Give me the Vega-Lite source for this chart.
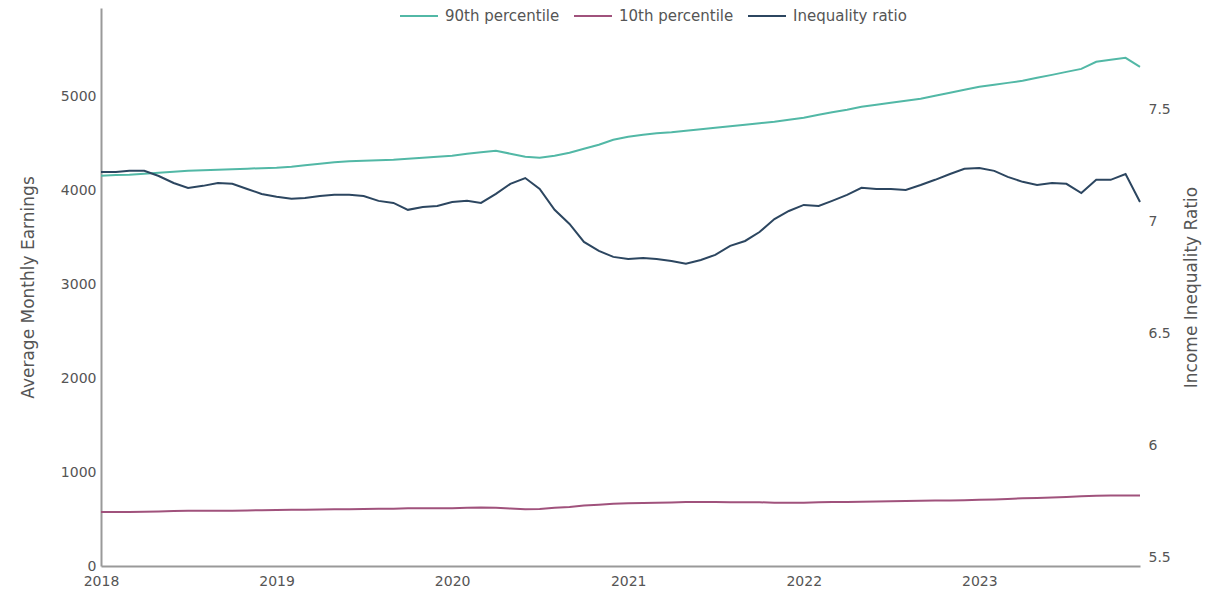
{
  "$schema": "https://vega.github.io/schema/vega-lite/v6.json",
  "autosize": {"type": "none"},
  "width": 1039,
  "height": 558,
  "padding": {"left": 101, "top": 8, "right": 65, "bottom": 29},
  "background": "white",
  "config": {
    "view": {"stroke": null},
    "font": "DejaVu Sans",
    "axis": {"grid": false, "ticks": false, "labelFont": "DejaVu Sans", "labelFontSize": 14, "labelColor": "#555", "titleFont": "DejaVu Sans", "titleFontSize": 17, "titleFontWeight": "normal", "titleColor": "#555", "domainColor": "#999", "domainWidth": 2},
    "legend": {"labelFont": "DejaVu Sans", "labelFontSize": 15, "labelColor": "#555"}
  },
  "data": {"values": [
    {"date": "2018-01-01", "p90": 4155, "p10": 575, "ratio": 7.223},
    {"date": "2018-02-01", "p90": 4161, "p10": 576, "ratio": 7.223},
    {"date": "2018-03-01", "p90": 4166, "p10": 576, "ratio": 7.228},
    {"date": "2018-04-01", "p90": 4176, "p10": 578, "ratio": 7.228},
    {"date": "2018-05-01", "p90": 4187, "p10": 581, "ratio": 7.205},
    {"date": "2018-06-01", "p90": 4198, "p10": 585, "ratio": 7.174},
    {"date": "2018-07-01", "p90": 4208, "p10": 588, "ratio": 7.152},
    {"date": "2018-08-01", "p90": 4214, "p10": 588, "ratio": 7.161},
    {"date": "2018-09-01", "p90": 4219, "p10": 588, "ratio": 7.174},
    {"date": "2018-10-01", "p90": 4224, "p10": 589, "ratio": 7.170},
    {"date": "2018-11-01", "p90": 4230, "p10": 592, "ratio": 7.147},
    {"date": "2018-12-01", "p90": 4235, "p10": 594, "ratio": 7.125},
    {"date": "2019-01-01", "p90": 4240, "p10": 596, "ratio": 7.112},
    {"date": "2019-02-01", "p90": 4251, "p10": 598, "ratio": 7.103},
    {"date": "2019-03-01", "p90": 4267, "p10": 600, "ratio": 7.107},
    {"date": "2019-04-01", "p90": 4283, "p10": 602, "ratio": 7.116},
    {"date": "2019-05-01", "p90": 4299, "p10": 604, "ratio": 7.121},
    {"date": "2019-06-01", "p90": 4309, "p10": 605, "ratio": 7.121},
    {"date": "2019-07-01", "p90": 4315, "p10": 606, "ratio": 7.116},
    {"date": "2019-08-01", "p90": 4320, "p10": 609, "ratio": 7.094},
    {"date": "2019-09-01", "p90": 4325, "p10": 610, "ratio": 7.085},
    {"date": "2019-10-01", "p90": 4336, "p10": 615, "ratio": 7.054},
    {"date": "2019-11-01", "p90": 4346, "p10": 615, "ratio": 7.067},
    {"date": "2019-12-01", "p90": 4357, "p10": 616, "ratio": 7.071},
    {"date": "2020-01-01", "p90": 4368, "p10": 616, "ratio": 7.089},
    {"date": "2020-02-01", "p90": 4389, "p10": 619, "ratio": 7.094},
    {"date": "2020-03-01", "p90": 4405, "p10": 622, "ratio": 7.085},
    {"date": "2020-04-01", "p90": 4421, "p10": 620, "ratio": 7.125},
    {"date": "2020-05-01", "p90": 4389, "p10": 612, "ratio": 7.170},
    {"date": "2020-06-01", "p90": 4357, "p10": 605, "ratio": 7.196},
    {"date": "2020-07-01", "p90": 4346, "p10": 608, "ratio": 7.147},
    {"date": "2020-08-01", "p90": 4368, "p10": 619, "ratio": 7.054},
    {"date": "2020-09-01", "p90": 4400, "p10": 629, "ratio": 6.991},
    {"date": "2020-10-01", "p90": 4442, "p10": 643, "ratio": 6.911},
    {"date": "2020-11-01", "p90": 4485, "p10": 653, "ratio": 6.871},
    {"date": "2020-12-01", "p90": 4538, "p10": 663, "ratio": 6.844},
    {"date": "2021-01-01", "p90": 4570, "p10": 669, "ratio": 6.835},
    {"date": "2021-02-01", "p90": 4591, "p10": 671, "ratio": 6.839},
    {"date": "2021-03-01", "p90": 4607, "p10": 674, "ratio": 6.835},
    {"date": "2021-04-01", "p90": 4617, "p10": 676, "ratio": 6.826},
    {"date": "2021-05-01", "p90": 4633, "p10": 680, "ratio": 6.813},
    {"date": "2021-06-01", "p90": 4649, "p10": 681, "ratio": 6.830},
    {"date": "2021-07-01", "p90": 4665, "p10": 681, "ratio": 6.853},
    {"date": "2021-08-01", "p90": 4681, "p10": 679, "ratio": 6.893},
    {"date": "2021-09-01", "p90": 4697, "p10": 679, "ratio": 6.915},
    {"date": "2021-10-01", "p90": 4713, "p10": 678, "ratio": 6.955},
    {"date": "2021-11-01", "p90": 4729, "p10": 674, "ratio": 7.013},
    {"date": "2021-12-01", "p90": 4750, "p10": 674, "ratio": 7.049},
    {"date": "2022-01-01", "p90": 4772, "p10": 674, "ratio": 7.076},
    {"date": "2022-02-01", "p90": 4804, "p10": 679, "ratio": 7.071},
    {"date": "2022-03-01", "p90": 4830, "p10": 681, "ratio": 7.094},
    {"date": "2022-04-01", "p90": 4857, "p10": 682, "ratio": 7.121},
    {"date": "2022-05-01", "p90": 4888, "p10": 683, "ratio": 7.152},
    {"date": "2022-06-01", "p90": 4910, "p10": 687, "ratio": 7.147},
    {"date": "2022-07-01", "p90": 4931, "p10": 690, "ratio": 7.147},
    {"date": "2022-08-01", "p90": 4952, "p10": 693, "ratio": 7.143},
    {"date": "2022-09-01", "p90": 4973, "p10": 694, "ratio": 7.165},
    {"date": "2022-10-01", "p90": 5005, "p10": 696, "ratio": 7.188},
    {"date": "2022-11-01", "p90": 5037, "p10": 698, "ratio": 7.214},
    {"date": "2022-12-01", "p90": 5069, "p10": 700, "ratio": 7.237},
    {"date": "2023-01-01", "p90": 5101, "p10": 705, "ratio": 7.241},
    {"date": "2023-02-01", "p90": 5122, "p10": 709, "ratio": 7.228},
    {"date": "2023-03-01", "p90": 5143, "p10": 714, "ratio": 7.201},
    {"date": "2023-04-01", "p90": 5165, "p10": 720, "ratio": 7.179},
    {"date": "2023-05-01", "p90": 5197, "p10": 725, "ratio": 7.165},
    {"date": "2023-06-01", "p90": 5228, "p10": 729, "ratio": 7.174},
    {"date": "2023-07-01", "p90": 5260, "p10": 734, "ratio": 7.170},
    {"date": "2023-08-01", "p90": 5292, "p10": 742, "ratio": 7.129},
    {"date": "2023-09-01", "p90": 5367, "p10": 747, "ratio": 7.188},
    {"date": "2023-10-01", "p90": 5388, "p10": 750, "ratio": 7.188},
    {"date": "2023-11-01", "p90": 5409, "p10": 750, "ratio": 7.214},
    {"date": "2023-12-01", "p90": 5314, "p10": 750, "ratio": 7.089}
  ]},
  "layer": [
    {
      "layer": [
        {
          "mark": {"type": "line", "strokeWidth": 2},
          "encoding": {
            "x": {"field": "date", "type": "temporal", "scale": {"type": "utc", "nice": false}, "axis": {"title": null, "format": "%Y", "formatType": "utc", "values": [{"year": 2018, "utc": true}, {"year": 2019, "utc": true}, {"year": 2020, "utc": true}, {"year": 2021, "utc": true}, {"year": 2022, "utc": true}, {"year": 2023, "utc": true}], "labelPadding": 8, "labelAlign": "center", "labelFlush": false, "labelOverlap": false}},
            "y": {"field": "p90", "type": "quantitative", "title": "Average Monthly Earnings", "scale": {"domain": [0, 5940], "nice": false, "zero": true}, "axis": {"values": [0, 1000, 2000, 3000, 4000, 5000], "format": "d", "labelPadding": 5, "titlePadding": 23}},
            "color": {"datum": "90th percentile", "type": "nominal", "scale": {"domain": ["90th percentile", "10th percentile", "Inequality ratio"], "range": ["#52b8a6", "#a0527c", "#2c4660"]}, "legend": {"title": null, "orient": "none", "direction": "horizontal", "legendX": 298, "legendY": -12, "symbolType": "stroke", "symbolSize": 1444, "symbolStrokeWidth": 2, "labelOffset": 6, "columnPadding": 10}}
          }
        },
        {
          "mark": {"type": "line", "strokeWidth": 2},
          "encoding": {
            "x": {"field": "date", "type": "temporal"},
            "y": {"field": "p10", "type": "quantitative", "title": "Average Monthly Earnings"},
            "color": {"datum": "10th percentile", "type": "nominal"}
          }
        }
      ]
    },
    {
      "mark": {"type": "line", "strokeWidth": 2},
      "encoding": {
        "x": {"field": "date", "type": "temporal"},
        "y": {"field": "ratio", "type": "quantitative", "title": "Income Inequality Ratio", "scale": {"domain": [5.464, 7.955], "nice": false, "zero": false}, "axis": {"orient": "right", "values": [5.5, 6, 6.5, 7, 7.5], "format": "~g", "domain": false, "labelPadding": 8, "titlePadding": 30, "titleAngle": 270}},
        "color": {"datum": "Inequality ratio", "type": "nominal"}
      }
    }
  ],
  "resolve": {"scale": {"y": "independent"}}
}
